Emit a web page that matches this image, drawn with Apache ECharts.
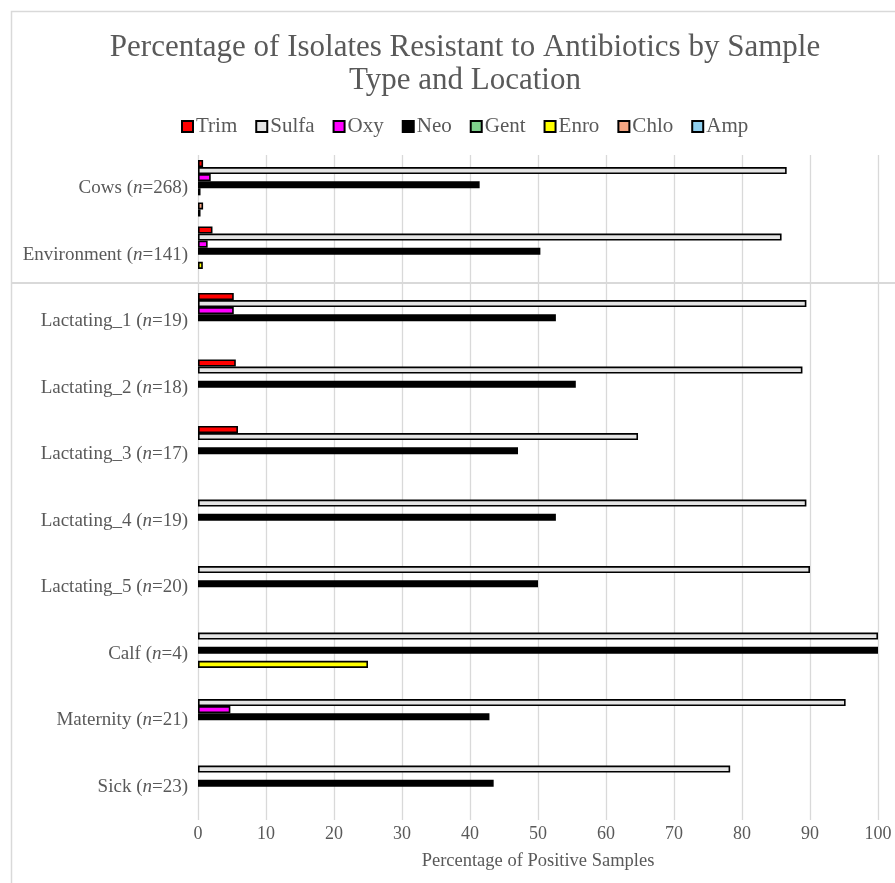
<!DOCTYPE html>
<html>
<head>
<meta charset="utf-8">
<style>
  html, body { margin: 0; padding: 0; background: #ffffff; }
  #chart { width: 895px; height: 883px; }
</style>
<script src="https://cdn.jsdelivr.net/npm/echarts@6/dist/echarts.min.js"></script>
</head>
<body>
<div id="chart"></div>
<script>
// Sample groups (top to bottom)
const categories = [
  'Cows (n=268)', 'Environment (n=141)',
  'Lactating_1 (n=19)', 'Lactating_2 (n=18)', 'Lactating_3 (n=17)',
  'Lactating_4 (n=19)', 'Lactating_5 (n=20)', 'Calf (n=4)',
  'Maternity (n=21)', 'Sick (n=23)'
];

// Percent of isolates resistant, per antibiotic
const trim  = [0.75, 2.13, 5.26, 5.56, 5.88, 0, 0, 0, 0, 0];
const sulfa = [86.57, 85.82, 89.47, 88.89, 64.71, 89.47, 90, 100, 95.24, 78.26];
const oxy   = [1.87, 1.42, 5.26, 0, 0, 0, 0, 0, 4.76, 0];
const neo   = [41.42, 50.35, 52.63, 55.56, 47.06, 52.63, 50, 100, 42.86, 43.48];
const gent  = [0.37, 0, 0, 0, 0, 0, 0, 0, 0, 0];
const enro  = [0, 0.71, 0, 0, 0, 0, 0, 25, 0, 0];
const chlo  = [0.75, 0, 0, 0, 0, 0, 0, 0, 0, 0];
const amp   = [0.37, 0, 0, 0, 0, 0, 0, 0, 0, 0];

const xTicks = [0, 10, 20, 30, 40, 50, 60, 70, 80, 90, 100];

const antibiotics = [
  { name: 'Trim',  data: trim,  color: '#ff0000' },
  { name: 'Sulfa', data: sulfa, color: '#e4e4e4' },
  { name: 'Oxy',   data: oxy,   color: '#ff00ff' },
  { name: 'Neo',   data: neo,   color: '#000000' },
  { name: 'Gent',  data: gent,  color: '#7fd08c' },
  { name: 'Enro',  data: enro,  color: '#ffff00' },
  { name: 'Chlo',  data: chlo,  color: '#f4a582' },
  { name: 'Amp',   data: amp,   color: '#8fd0ef' }
];

const FONT = '"Liberation Serif", "Times New Roman", serif';
const TEXT = '#595959';
const GRID = '#d9d9d9';

const chart = echarts.init(document.getElementById('chart'), null, { renderer: 'canvas' });

chart.setOption({
  backgroundColor: '#ffffff',
  animation: false,
  title: {
    text: 'Percentage of Isolates Resistant to Antibiotics by Sample\nType and Location',
    left: 460,
    top: 26,
    textAlign: 'center',
    textStyle: { fontFamily: FONT, fontSize: 31, fontWeight: 'normal', color: TEXT, lineHeight: 33 }
  },
  legend: {
    top: 111,
    left: 176,
    itemWidth: 11,
    itemHeight: 11,
    itemGap: 18,
    icon: 'rect',
    textStyle: { fontFamily: FONT, fontSize: 21, color: TEXT, padding: [0, 0, 0, -2] },
    data: antibiotics.map(a => a.name)
  },
  grid: { left: 198, right: 17, top: 155, bottom: 63, containLabel: false },
  xAxis: {
    type: 'value',
    min: xTicks[0],
    max: xTicks[xTicks.length - 1],
    interval: 10,
    name: 'Percentage of Positive Samples',
    nameLocation: 'middle',
    nameGap: 32,
    nameTextStyle: { fontFamily: FONT, fontSize: 18.5, color: TEXT },
    axisLine: { show: false },
    axisTick: { show: false },
    axisLabel: { fontFamily: FONT, fontSize: 18, color: TEXT, margin: 5 },
    splitLine: { show: true, lineStyle: { color: GRID, width: 1.3 } }
  },
  yAxis: {
    type: 'category',
    inverse: true,
    data: categories,
    axisLine: { show: false },
    axisTick: { show: false },
    splitLine: { show: false },
    axisLabel: {
      margin: 10,
      formatter: function (v) {
        const m = v.match(/^(.*\()n(=.*)$/);
        if (!m) return '{a|' + v + '}';
        return '{a|' + m[1] + '}{i|n}{a|' + m[2] + '}';
      },
      rich: {
        a: { fontFamily: FONT, fontSize: 19, color: TEXT },
        i: { fontFamily: FONT, fontSize: 19, color: TEXT, fontStyle: 'italic' }
      }
    }
  },
  series: antibiotics.map(a => ({
    name: a.name,
    type: 'bar',
    barGap: '0%',
    barCategoryGap: '15%',
    data: a.data.map(v => (v === 0 ? '-' : v)),
    itemStyle: { color: a.color, borderColor: '#000000', borderWidth: 1.6 }
  })),
  graphic: [
    {
      type: 'rect',
      silent: true,
      z: -1,
      shape: { x: 11.5, y: 11.5, width: 1000, height: 1000 },
      style: { fill: 'none', stroke: GRID, lineWidth: 1.5 }
    },
    {
      type: 'line',
      silent: true,
      shape: { x1: 12, y1: 283, x2: 895, y2: 283 },
      style: { stroke: GRID, lineWidth: 2 }
    }
  ]
});
</script>
</body>
</html>
